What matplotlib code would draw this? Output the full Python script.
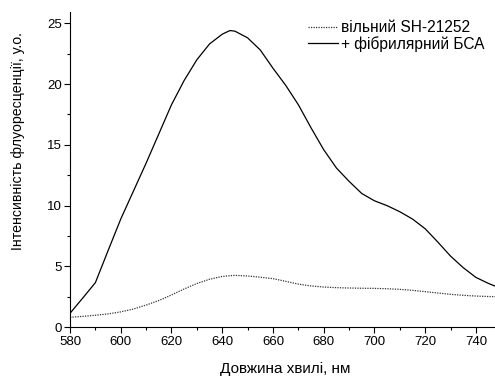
import matplotlib
matplotlib.use("Agg")
import matplotlib.pyplot as plt
from matplotlib.ticker import MultipleLocator

plt.rcParams['font.family'] = ['Liberation Sans', 'DejaVu Sans']

wavelength = [580, 585, 590, 595, 600, 605, 610, 615, 620, 625, 630, 635, 640, 643,
              645, 650, 655, 660, 665, 670, 675, 680, 685, 690, 695, 700, 705, 710,
              715, 720, 725, 730, 735, 740, 745, 748]
bound = [1.15, 2.4, 3.67, 6.3, 8.9, 11.2, 13.5, 15.9, 18.3, 20.3, 22.0, 23.3, 24.1, 24.4,
         24.35, 23.8, 22.8, 21.3, 19.9, 18.3, 16.4, 14.6, 13.1, 12.0, 11.0, 10.4, 10.0, 9.5,
         8.9, 8.1, 7.0, 5.85, 4.9, 4.1, 3.6, 3.35]
free = [0.82, 0.9, 0.99, 1.1, 1.27, 1.5, 1.83, 2.2, 2.66, 3.15, 3.6, 3.95, 4.18, 4.24,
        4.27, 4.22, 4.12, 4.0, 3.78, 3.55, 3.4, 3.31, 3.26, 3.23, 3.21, 3.2, 3.17, 3.12,
        3.04, 2.93, 2.82, 2.71, 2.63, 2.57, 2.53, 2.52]

labels = ['вільний SH-21252', '+ фібрилярний БСА']
xlabel = 'Довжина хвилі, нм'
ylabel = 'Інтенсивність флуоресценції, у.о.'

fig = plt.figure(figsize=(4.95, 3.76), dpi=100)
ax = fig.add_axes([70/495, 1-327.3/376, 1-70/495, (327.3-11.7)/376])

ax.plot(wavelength, free, color='#333333', lw=0.9, linestyle=(0, (1, 1)), label=labels[0])
ax.plot(wavelength, bound, color='black', lw=0.9, label=labels[1])

ax.set_xlim(580, 747.5)
ax.set_ylim(0, 25.95)
ax.xaxis.set_major_locator(MultipleLocator(20))
ax.xaxis.set_minor_locator(MultipleLocator(10))
ax.yaxis.set_major_locator(MultipleLocator(5))
ax.yaxis.set_minor_locator(MultipleLocator(2.5))
ax.tick_params(which='major', direction='out', length=4, width=0.8, labelsize=9.5, pad=2)
ax.tick_params(which='minor', direction='out', length=2.5, width=0.8)
for s in ['top', 'right']:
    ax.spines[s].set_visible(False)
for s in ['left', 'bottom']:
    ax.spines[s].set_linewidth(0.8)

ax.set_xlabel(xlabel, fontsize=11)
ax.set_ylabel(ylabel, fontsize=10.2)
ax.xaxis.set_label_coords(0.507, -0.11)
ax.yaxis.set_label_coords(-0.106, 0.589)

ax.legend(loc='upper right', bbox_to_anchor=(484/495, 1-20.5/376), bbox_transform=fig.transFigure,
          frameon=False, fontsize=11.2, handlelength=1.95, handletextpad=0.15,
          labelspacing=0.02, borderpad=0, borderaxespad=0)

fig.savefig('out.png', dpi=100)
